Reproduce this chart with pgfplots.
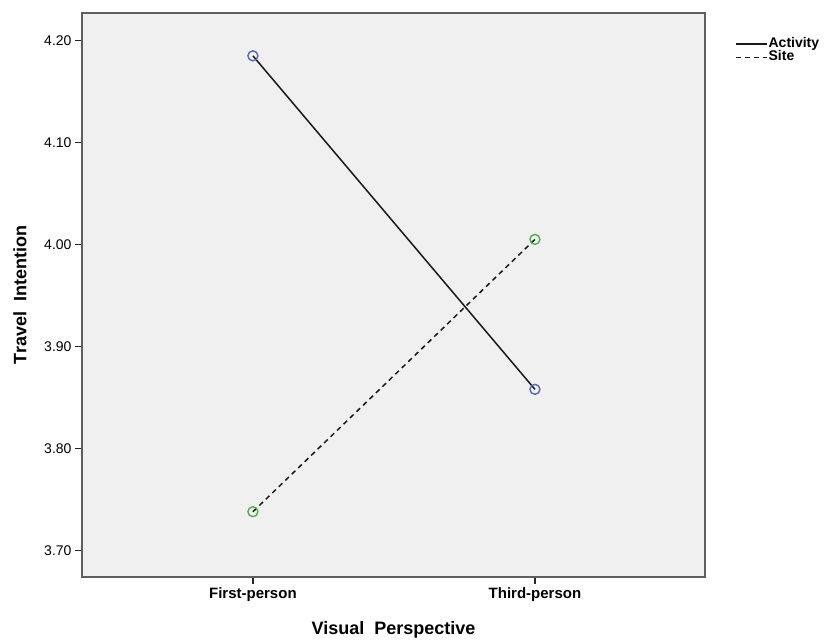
\documentclass[border=0pt]{standalone}
\usepackage{pgfplots}
\pgfplotsset{compat=1.18}
\usepackage{fontspec}
\setmainfont{Liberation Sans}
\definecolor{bgc}{HTML}{F0F0F0}
\definecolor{framec}{HTML}{5E5E5E}
\definecolor{actc}{HTML}{5468B4}
\definecolor{sitec}{HTML}{4DB04D}
\begin{document}
\begin{tikzpicture}[x=1pt,y=1pt]
\useasboundingbox (0,0) rectangle (824,642);
\begin{axis}[
  at={(82pt,65pt)}, anchor=south west,
  scale only axis, width=623pt, height=564pt,
  xmin=-0.606, xmax=1.603,
  ymin=3.674, ymax=4.227,
  axis background/.style={fill=bgc},
  axis line style={framec, line width=2pt},
  xtick={0,1}, xticklabels={First-person,Third-person},
  ytick={3.70,3.80,3.90,4.00,4.10,4.20},
  yticklabel style={/pgf/number format/fixed, /pgf/number format/fixed zerofill, /pgf/number format/precision=2, font=\fontsize{14}{16}\selectfont},
  /pgf/number format/assume math mode=true,
  xticklabel style={font=\fontsize{15}{17}\selectfont\bfseries},
  tick align=outside, tick pos=left,
  major tick length=7pt,
  tick style={black!85, line width=1.3pt},
  xlabel={Visual\ \ Perspective},
  ylabel={Travel\ \ Intention},
  xlabel style={font=\fontsize{18}{20}\selectfont\bfseries, at={(axis description cs:0.5,-0.094)}, anchor=center},
  ylabel style={font=\fontsize{18}{20}\selectfont\bfseries, at={(axis description cs:-0.0995,0.5)}, anchor=center},
  legend style={draw=none, fill=none, at={(axis description cs:1.048,0.957)}, anchor=north west, inner sep=0pt,
    font=\fontsize{14}{16}\selectfont\bfseries, row sep=0pt,
    nodes={inner sep=1pt, text height=9pt, text depth=2.5pt}},
  legend cell align=left,
  legend image code/.code={\draw[#1,mark=none] (0pt,0pt) -- (31pt,0pt);},
]
\addplot[black!90, line width=1.5pt, mark=o, mark size=5pt, mark options={draw=actc, solid, line width=1.4pt}]
  coordinates {(0,4.185) (1,3.858)};
\addlegendentry{Activity}
\addplot[black!90, line width=1.5pt, dash pattern=on 5pt off 4pt, mark=o, mark size=5pt, mark options={draw=sitec, solid, line width=1.4pt}]
  coordinates {(0,3.738) (1,4.005)};
\addlegendentry{Site}
\end{axis}
\end{tikzpicture}
\end{document}
